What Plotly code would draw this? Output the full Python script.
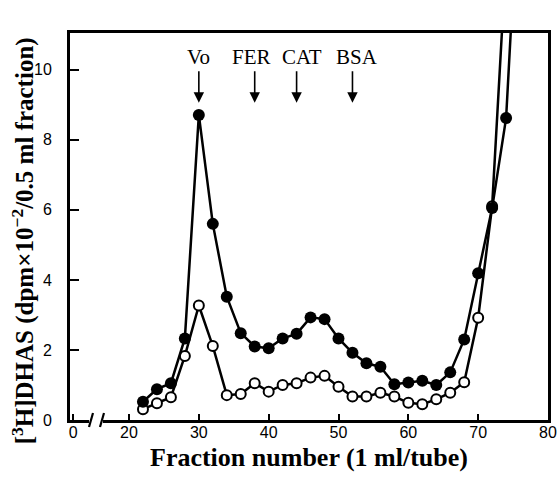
import plotly.graph_objects as go

# ---- data ----
fraction = [22, 24, 26, 28, 30, 32, 34, 36, 38, 40, 42, 44, 46, 48, 50, 52, 54, 56, 58, 60, 62, 64, 66, 68, 70, 72, 74, 76]
filled_dhas = [0.52, 0.88, 1.05, 2.33, 8.71, 5.6, 3.52, 2.48, 2.1, 2.05, 2.33, 2.46, 2.93, 2.88, 2.33, 1.92, 1.62, 1.52, 1.02, 1.07, 1.12, 1.0, 1.36, 2.3, 4.19, 6.05, 8.62, 16.0]
fraction_open = [22, 24, 26, 28, 30, 32, 34, 36, 38, 40, 42, 44, 46, 48, 50, 52, 54, 56, 58, 60, 62, 64, 66, 68, 70, 72, 74]
open_dhas = [0.31, 0.48, 0.65, 1.83, 3.27, 2.11, 0.71, 0.74, 1.05, 0.81, 1.0, 1.05, 1.21, 1.26, 0.95, 0.67, 0.67, 0.78, 0.67, 0.49, 0.45, 0.59, 0.78, 1.08, 2.92, 6.1, 13.2]

marker_names = ["Vo", "FER", "CAT", "BSA"]
marker_pos = [30, 38, 44, 52]
marker_label_shift = [0, -3, 5, 5]

xtick_vals = [12, 20, 30, 40, 50, 60, 70, 80]
xtick_text = ["0", "20", "30", "40", "50", "60", "70", "80"]
ytick_vals = [0, 2, 4, 6, 8, 10]

X_MIN, X_MAX = 11.55, 80
Y_MIN, Y_MAX = 0, 11.05

fig = go.Figure()
fig.add_trace(go.Scatter(
    x=fraction_open, y=open_dhas, mode="lines+markers",
    line=dict(color="black", width=2.5),
    marker=dict(size=10, color="white", line=dict(color="black", width=2)),
    showlegend=False))
fig.add_trace(go.Scatter(
    x=fraction, y=filled_dhas, mode="lines+markers",
    line=dict(color="black", width=2.5),
    marker=dict(size=12, color="black"),
    showlegend=False))

serif = "Liberation Serif, Times New Roman, serif"
sans = "Liberation Sans Narrow, Arial Narrow, Liberation Sans, sans-serif"

# marker arrows and labels
for name, pos, sh in zip(marker_names, marker_pos, marker_label_shift):
    fig.add_annotation(x=pos, y=9.06, xref="x", yref="y", text="",
                       showarrow=True, ax=0, ay=-33, arrowhead=2,
                       arrowsize=1.3, arrowwidth=1.6, arrowcolor="black")
    fig.add_annotation(x=pos, y=10.37, xref="x", yref="y", text=name,
                       showarrow=False, xshift=sh,
                       font=dict(family=serif, size=21, color="black"))

# y axis title as rotated annotation
fig.add_annotation(x=-0.098, y=0.462, xref="paper", yref="paper",
                   text="<b>[<sup>3</sup>H]DHAS (dpm×10<sup>−2</sup>/0.5 ml fraction)</b>",
                   textangle=-90, showarrow=False, xanchor="center", yanchor="middle",
                   font=dict(family=serif, size=25, color="black"))

# axis break on the x axis
x_px = lambda p: X_MIN + (p - 70) * (X_MAX - X_MIN) / 478.0
fig.add_shape(type="rect", xref="x", yref="paper", x0=x_px(89), x1=x_px(103),
              y0=-0.02, y1=0.02, fillcolor="white", line=dict(width=0), layer="above")
for a in (89, 100):
    fig.add_shape(type="line", xref="x", yref="paper", x0=x_px(a), x1=x_px(a + 4),
                  y0=-0.018, y1=0.018, line=dict(color="black", width=2.2), layer="above")

fig.update_layout(
    width=557, height=480,
    margin=dict(l=70, r=9, t=33, b=60),
    paper_bgcolor="white", plot_bgcolor="white",
    xaxis=dict(range=[X_MIN, X_MAX], tickvals=xtick_vals, ticktext=xtick_text,
               automargin=False,
               ticks="inside", ticklen=6, tickwidth=2, tickcolor="black",
               showline=True, linewidth=3, linecolor="black", mirror=True,
               showgrid=False, zeroline=False, ticklabelstandoff=-4,
               tickfont=dict(family=sans, size=16, color="black"),
               title=dict(text="<b>Fraction number (1 ml/tube)</b>", standoff=8,
                          font=dict(family=serif, size=26, color="black"))),
    yaxis=dict(range=[Y_MIN, Y_MAX], tickvals=ytick_vals,
               automargin=False,
               ticks="inside", ticklen=9, tickwidth=2, tickcolor="black",
               showline=True, linewidth=3, linecolor="black", mirror=True,
               showgrid=False, zeroline=False, ticklabelstandoff=12,
               tickfont=dict(family=sans, size=16, color="black")),
)

fig.write_html("out.html", config={"displayModeBar": False},
               post_script="document.body.style.margin='0px';")
